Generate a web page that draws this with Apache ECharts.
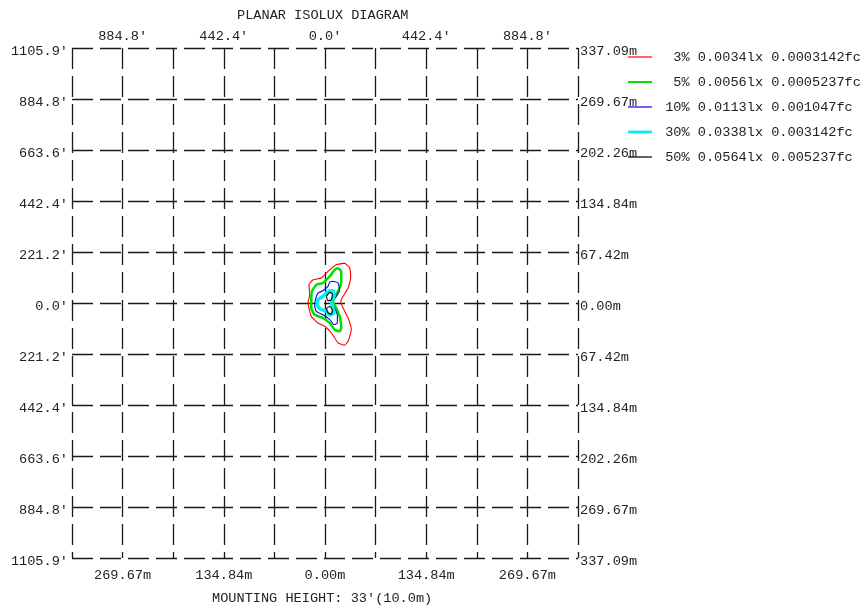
<!DOCTYPE html>
<html>
<head>
<meta charset="utf-8">
<script src="https://cdn.jsdelivr.net/npm/echarts@6/dist/echarts.min.js"></script>
<style>
  html, body { margin: 0; padding: 0; background: #fff; }
  #chart { width: 866px; height: 608px; }
</style>
</head>
<body>
<div id="chart"></div>
<script>
// Axis extents: feet on top/left, metres on bottom/right
const feetMax = 1105.9, feetStep = 221.18;
const metreMax = 337.09, metreStep = 67.418;

const topFeetLabels = ['', "884.8'", '', "442.4'", '', "0.0'", '', "442.4'", '', "884.8'", ''];
const bottomMetreLabels = ['', '269.67m', '', '134.84m', '', '0.00m', '', '134.84m', '', '269.67m', ''];
const leftFeetLabels = ["1105.9'", "884.8'", "663.6'", "442.4'", "221.2'", "0.0'", "221.2'", "442.4'", "663.6'", "884.8'", "1105.9'"];
const rightMetreLabels = ['337.09m', '269.67m', '202.26m', '134.84m', '67.42m', '0.00m', '67.42m', '134.84m', '202.26m', '269.67m', '337.09m'];

// Isolux contour levels (legend text) and colours
const levelNames = [
  '  3% 0.0034lx 0.0003142fc',
  '  5% 0.0056lx 0.0005237fc',
  ' 10% 0.0113lx 0.001047fc',
  ' 30% 0.0338lx 0.003142fc',
  ' 50% 0.0564lx 0.005237fc'
];
const levelColors = ['#ff0000', '#00e000', '#0000ff', '#00f0f0', '#000000'];
const levelWidths = [1.1, 2.5, 1.1, 3.5, 1.1];

// Contour outlines, [x ft, y ft]
const contour3 = [
  [86, 173], [108, 152], [112, 108], [101, 65], [79, 29], [69, 7], [79, -22], [101, -65],
  [115, -116], [101, -166], [86, -183], [57, -173], [28, -130], [-1, -101], [-31, -87],
  [-60, -58], [-70, -22], [-74, 0], [-67, 36], [-70, 79], [-52, 101], [-16, 108],
  [13, 137], [49, 166], [86, 173]
];
const contour5 = [
  [57, 152], [71, 137], [71, 87], [49, 36], [35, 7], [49, -22], [64, -58], [71, -108],
  [64, -123], [42, -116], [21, -87], [-9, -65], [-45, -51], [-60, -22], [-60, 7],
  [-57, 51], [-38, 79], [-9, 87], [21, 116], [42, 144], [57, 152]
];
const contour10 = [
  [35, 94], [57, 87], [64, 58], [49, 29], [28, 7], [42, -22], [54, -51], [54, -87],
  [39, -94], [21, -72], [-9, -51], [-38, -36], [-45, -14], [-42, 14], [-31, 43],
  [-9, 53], [13, 72], [21, 91], [35, 94]
];
const contour30 = [
  [13, 51], [35, 53], [39, 29], [28, 7], [35, -22], [39, -43], [21, -53], [6, -36],
  [-23, -25], [-34, -7], [-31, 14], [-9, 29], [13, 51]
];
const contour50Upper = [[6, 29], [21, 46], [32, 39], [28, 14], [13, 10], [6, 29]];
const contour50Lower = [[6, -25], [21, -14], [32, -29], [28, -48], [13, -43], [6, -25]];

const contourSets = [
  [contour3], [contour5], [contour10], [contour30], [contour50Upper, contour50Lower]
];

const mono = 'Liberation Mono, Courier New, monospace';
const textColor = '#222';
const fontSize = 13.6;
const gridLine = { color: '#1a1a1a', width: 1.3, type: [21, 7] };

const series = [];
contourSets.forEach((loops, i) => {
  loops.forEach(loop => {
    series.push({
      name: levelNames[i],
      type: 'line',
      xAxisIndex: 0,
      yAxisIndex: 0,
      data: loop,
      symbol: 'none',
      smooth: 0.15,
      silent: true,
      color: levelColors[i],
      lineStyle: { color: levelColors[i], width: levelWidths[i] },
      z: 3 + i
    });
  });
});

// Legend swatches: flat bars whose thickness follows each contour's line width
const legendData = levelNames.map((name, i) => ({
  name: name,
  icon: 'path://M0,0H24V' + Math.max(1.2, levelWidths[i] * 0.8) + 'H0Z'
}));

// Labels sit slightly below their grid line
const sideLabel = {
  showMinLabel: true, showMaxLabel: true,
  fontFamily: mono, fontSize: fontSize, color: textColor,
  verticalAlign: 'top', lineHeight: 6
};

const chart = echarts.init(document.getElementById('chart'), null, { renderer: 'canvas' });
chart.setOption({
  backgroundColor: '#fff',
  animation: false,
  textStyle: { fontFamily: mono },
  title: [
    {
      text: 'PLANAR ISOLUX DIAGRAM',
      left: 237, top: 8, padding: 0,
      textStyle: { fontFamily: mono, fontSize: fontSize, fontWeight: 'normal', color: textColor }
    },
    {
      text: "MOUNTING HEIGHT: 33'(10.0m)",
      left: 212, top: 591, padding: 0,
      textStyle: { fontFamily: mono, fontSize: fontSize, fontWeight: 'normal', color: textColor }
    }
  ],
  legend: {
    orient: 'vertical',
    left: 628, top: 50, padding: 0,
    itemWidth: 24, itemHeight: 14, itemGap: 11,
    symbolKeepAspect: true,
    selectedMode: false,
    data: legendData,
    textStyle: { fontFamily: mono, fontSize: fontSize, color: textColor, lineHeight: 14 }
  },
  grid: { left: 72, right: 288, top: 48, bottom: 50, containLabel: false },
  xAxis: [
    {
      type: 'value', position: 'top',
      min: -feetMax, max: feetMax, interval: feetStep,
      axisLine: { show: false }, axisTick: { show: false },
      splitLine: { show: true, lineStyle: gridLine },
      axisLabel: {
        showMinLabel: true, showMaxLabel: true, margin: 5,
        fontFamily: mono, fontSize: fontSize, color: textColor,
        formatter: (v, idx) => topFeetLabels[idx] || ''
      }
    },
    {
      type: 'value', position: 'bottom',
      min: -metreMax, max: metreMax, interval: metreStep,
      axisLine: { show: false }, axisTick: { show: false },
      splitLine: { show: false },
      axisLabel: {
        showMinLabel: true, showMaxLabel: true, margin: 10,
        fontFamily: mono, fontSize: fontSize, color: textColor,
        formatter: (v, idx) => bottomMetreLabels[idx] || ''
      }
    }
  ],
  yAxis: [
    {
      type: 'value', position: 'left',
      min: -feetMax, max: feetMax, interval: feetStep,
      axisLine: { show: false }, axisTick: { show: false },
      splitLine: { show: true, lineStyle: gridLine },
      axisLabel: Object.assign({}, sideLabel, {
        margin: 4,
        formatter: (v, idx) => leftFeetLabels[leftFeetLabels.length - 1 - idx] || ''
      })
    },
    {
      type: 'value', position: 'right',
      min: -metreMax, max: metreMax, interval: metreStep,
      axisLine: { show: false }, axisTick: { show: false },
      splitLine: { show: false },
      axisLabel: Object.assign({}, sideLabel, {
        margin: 2,
        formatter: (v, idx) => rightMetreLabels[rightMetreLabels.length - 1 - idx] || ''
      })
    }
  ],
  series: series
});
</script>
</body>
</html>
